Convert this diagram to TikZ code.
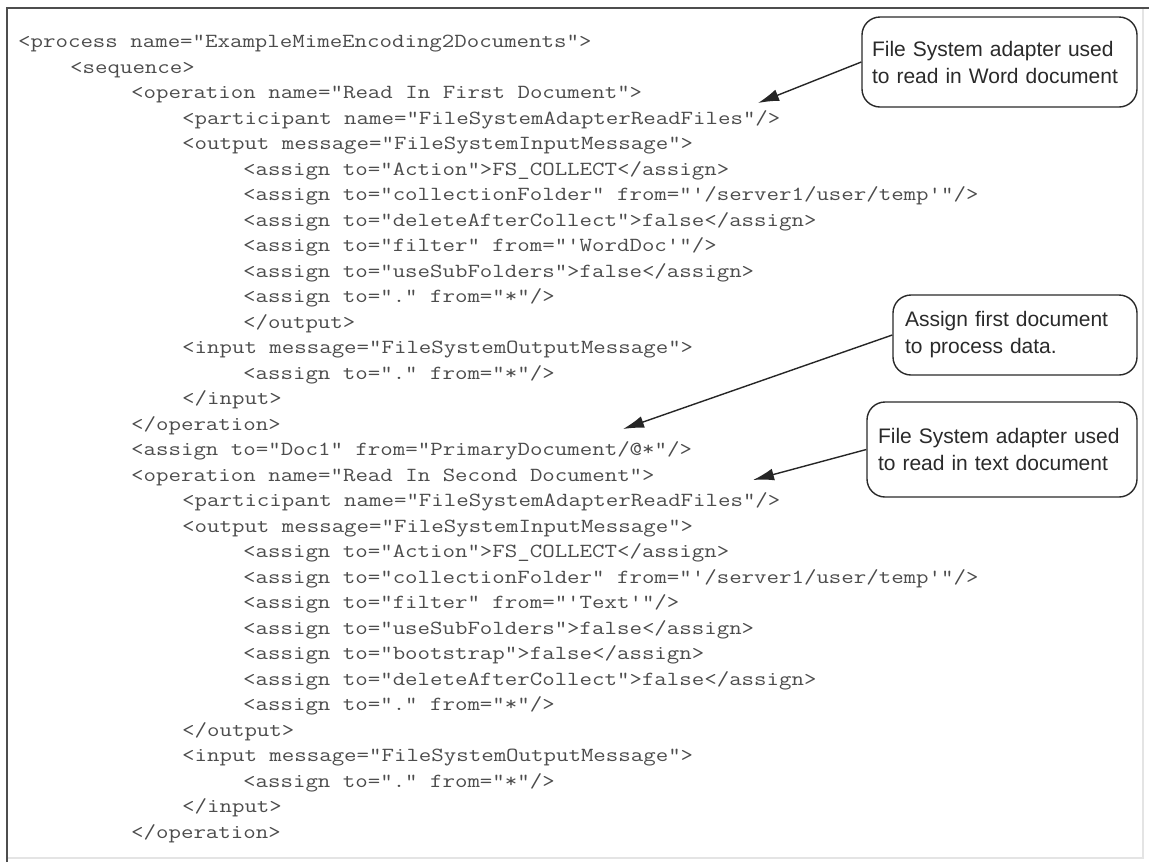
\documentclass[tikz,border=0pt]{standalone}
\usepackage{graphicx}
\usepackage{fontspec}
\newfontfamily\notefont{Liberation Sans}
\usetikzlibrary{arrows.meta}

\definecolor{codeink}{HTML}{4C4C4C}
\definecolor{noteink}{HTML}{2A2A2A}
\definecolor{frameDark}{HTML}{4E4E4E}
\definecolor{frameLight}{HTML}{E4E4E4}

% widen the typewriter glyphs to a Courier-like advance
\newcommand\codeln[1]{\scalebox{1.21}[1]{#1}}
\newcommand\sq{\textquotesingle}

\tikzset{
  codeline/.style={anchor=base west, inner sep=0pt, text=codeink,
    font=\ttfamily\fontsize{20}{24}\selectfont},
  note/.style={draw=noteink, line width=1.4pt, rounded corners=18pt, fill=white,
    inner ysep=0pt, text=noteink, align=left,
    font=\notefont\fontsize{21}{27}\selectfont},
  pointer/.style={draw=black!85, line width=1.4pt,
    -{Latex[length=21pt,width=12pt]}},
}

\begin{document}
\begin{tikzpicture}[x=1pt,y=1pt]
  \fill[white] (0,0) rectangle (1149,-863);
  \useasboundingbox (0,0) rectangle (1149,-863);

  % sunken frame
  \draw[frameLight, line width=1.5pt] (1143,-8) -- (1143,-858) -- (7,-858);
  \draw[frameDark, line width=2.5pt] (7,-862) -- (7,-8) -- (1149,-8);

  % XML listing
  \node[codeline] (c1)  at (18,-47.7)  {\codeln{<process name="ExampleMimeEncoding2Documents">}};
  \node[codeline] (c2)  at (70,-73.2)  {\codeln{<sequence>}};
  \node[codeline] (c3)  at (131,-98.7) {\codeln{<operation name="Read In First Document">}};
  \node[codeline] (c4)  at (182,-124.2) {\codeln{<participant name="FileSystemAdapterReadFiles"/>}};
  \node[codeline] (c5)  at (182,-149.7) {\codeln{<output message="FileSystemInputMessage">}};
  \node[codeline] (c6)  at (243,-175.2) {\codeln{<assign to="Action">FS\_COLLECT</assign>}};
  \node[codeline] (c7)  at (243,-200.7) {\codeln{<assign to="collectionFolder" from="\sq/server1/user/temp\sq"/>}};
  \node[codeline] (c8)  at (243,-226.2) {\codeln{<assign to="deleteAfterCollect">false</assign>}};
  \node[codeline] (c9)  at (243,-251.7) {\codeln{<assign to="filter" from="\sq WordDoc\sq"/>}};
  \node[codeline] (c10) at (243,-277.2) {\codeln{<assign to="useSubFolders">false</assign>}};
  \node[codeline] (c11) at (243,-302.7) {\codeln{<assign to="." from="*"/>}};
  \node[codeline] (c12) at (243,-328.2) {\codeln{</output>}};
  \node[codeline] (c13) at (182,-353.7) {\codeln{<input message="FileSystemOutputMessage">}};
  \node[codeline] (c14) at (243,-379.2) {\codeln{<assign to="." from="*"/>}};
  \node[codeline] (c15) at (182,-404.7) {\codeln{</input>}};
  \node[codeline] (c16) at (131,-430.2) {\codeln{</operation>}};
  \node[codeline] (c17) at (131,-455.7) {\codeln{<assign to="Doc1" from="PrimaryDocument/@*"/>}};
  \node[codeline] (c18) at (131,-481.2) {\codeln{<operation name="Read In Second Document">}};
  \node[codeline] (c19) at (182,-506.7) {\codeln{<participant name="FileSystemAdapterReadFiles"/>}};
  \node[codeline] (c20) at (182,-532.2) {\codeln{<output message="FileSystemInputMessage">}};
  \node[codeline] (c21) at (243,-557.7) {\codeln{<assign to="Action">FS\_COLLECT</assign>}};
  \node[codeline] (c22) at (243,-583.2) {\codeln{<assign to="collectionFolder" from="\sq/server1/user/temp\sq"/>}};
  \node[codeline] (c23) at (243,-608.7) {\codeln{<assign to="filter" from="\sq Text\sq"/>}};
  \node[codeline] (c24) at (243,-634.2) {\codeln{<assign to="useSubFolders">false</assign>}};
  \node[codeline] (c25) at (243,-659.7) {\codeln{<assign to="bootstrap">false</assign>}};
  \node[codeline] (c26) at (243,-685.2) {\codeln{<assign to="deleteAfterCollect">false</assign>}};
  \node[codeline] (c27) at (243,-710.7) {\codeln{<assign to="." from="*"/>}};
  \node[codeline] (c28) at (182,-736.2) {\codeln{</output>}};
  \node[codeline] (c29) at (182,-761.7) {\codeln{<input message="FileSystemOutputMessage">}};
  \node[codeline] (c30) at (243,-787.2) {\codeln{<assign to="." from="*"/>}};
  \node[codeline] (c31) at (182,-812.7) {\codeln{</input>}};
  \node[codeline] (c32) at (131,-838.2) {\codeln{</operation>}};

  % callouts
  \node[note, minimum width=275pt, minimum height=90pt, inner xsep=10pt, text width=255pt]
    (n1) at (999.5,-62) {File System adapter used\\to read in Word document};
  \node[note, minimum width=244pt, minimum height=80pt, inner xsep=12pt, text width=220pt]
    (n2) at (1015,-335) {Assign first document\\to process data.};
  \node[note, minimum width=270pt, minimum height=95pt, inner xsep=11pt, text width=248pt]
    (n3) at (1002,-449.5) {File System adapter used\\to read in text document};

  % pointer tips
  \coordinate (t1) at (758,-103);
  \coordinate (t2) at (623,-429);
  \coordinate (t3) at (753,-480);

  \draw[pointer] (n1.west) -- (t1);
  \draw[pointer] (n2.west) -- (t2);
  \draw[pointer] (n3.west) -- (t3);
\end{tikzpicture}
\end{document}
